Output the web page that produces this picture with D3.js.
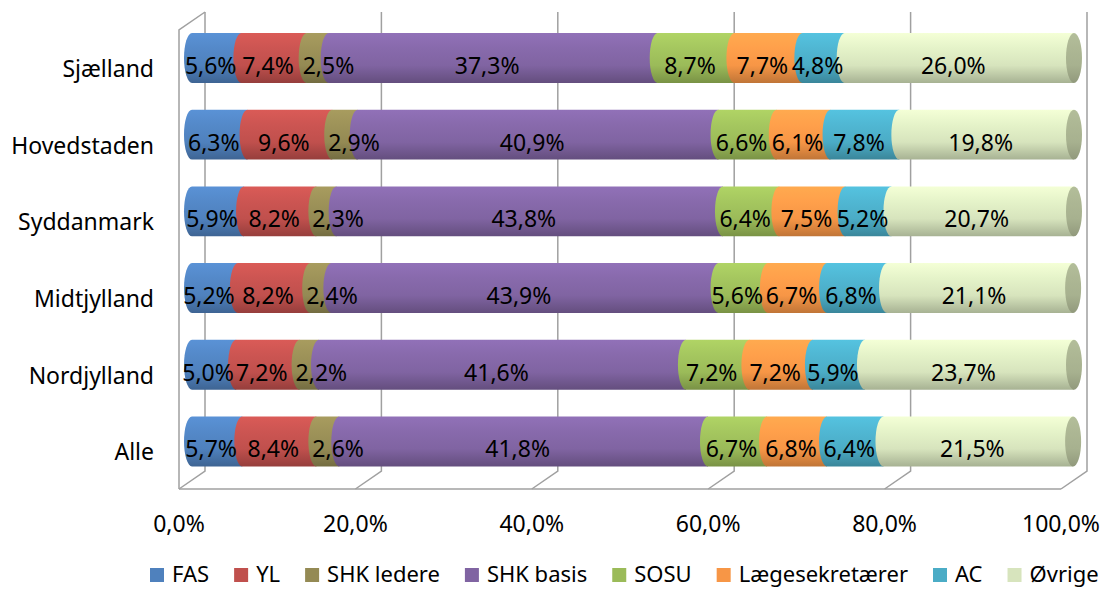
<!DOCTYPE html>
<html>
<head>
<meta charset="utf-8">
<script src="https://cdn.jsdelivr.net/npm/d3@7"></script>
<style>
body { margin: 0; background: #fff; }
svg text { font-family: "Noto Sans", sans-serif; fill: #000; }
</style>
</head>
<body>
<svg id="chart" width="1104" height="589"></svg>
<script>
// categories top to bottom
const regions = ["Sjælland", "Hovedstaden", "Syddanmark", "Midtjylland", "Nordjylland", "Alle"];
const seriesNames = ["FAS", "YL", "SHK ledere", "SHK basis", "SOSU", "Lægesekretærer", "AC", "Øvrige"];
const seriesColors = ["#4f81bd", "#c0504d", "#948a54", "#8064a2", "#9bbb59", "#f79646", "#4bacc6", "#d7e4bd"];

// values in percent, same order as regions
const fas       = [5.6, 6.3, 5.9, 5.2, 5.0, 5.7];
const yl        = [7.4, 9.6, 8.2, 8.2, 7.2, 8.4];
const shkLedere = [2.5, 2.9, 2.3, 2.4, 2.2, 2.6];
const shkBasis  = [37.3, 40.9, 43.8, 43.9, 41.6, 41.8];
const sosu      = [8.7, 6.6, 6.4, 5.6, 7.2, 6.7];
const laege     = [7.7, 6.1, 7.5, 6.7, 7.2, 6.8];
const ac        = [4.8, 7.8, 5.2, 6.8, 5.9, 6.4];
const oevrige   = [26.0, 19.8, 20.7, 21.1, 23.7, 21.5];

const ticks = [0, 20, 40, 60, 80, 100];

const seriesValues = [fas, yl, shkLedere, shkBasis, sosu, laege, ac, oevrige];
const fmt = v => v.toFixed(1).replace(".", ",") + "%";

var svg = d3.select("#chart");

// table for d3.stack
var table = regions.map(function(r, i){
	var row = {region: r};
	seriesNames.forEach((s, j) => row[s] = seriesValues[j][i]);
	return row;
});
var stacked = d3.stack().keys(seriesNames)(table);

// 3d box: front plane, back plane, bars in the middle
const depth = {dx: 26, dy: -18};
var xFront = d3.scaleLinear().domain([0, 100]).range([179, 1061]);
var xBack = d3.scaleLinear().domain([0, 100]).range([205, 1087]);
var xBar = d3.scaleLinear().domain([0, 100]).range([192, 1074]);
const floorY = 489;
const topY = 12;

var y = d3.scaleBand()
	.domain(regions)
	.range([19.6, 479.8])
	.paddingInner(0.35)
	.paddingOuter(0.175);

const rx = 8;

// gradients
var defs = svg.append("defs");
function addGradient(id, c, top, bottom){
	var g = defs.append("linearGradient")
		.attr("id", id)
		.attr("x1", 0).attr("y1", 0).attr("x2", 0).attr("y2", 1);
	var base = d3.color(c);
	g.append("stop").attr("offset", "0%").attr("stop-color", base.brighter(top).formatHex());
	g.append("stop").attr("offset", "30%").attr("stop-color", base.brighter(top * 0.5).formatHex());
	g.append("stop").attr("offset", "65%").attr("stop-color", base.formatHex());
	g.append("stop").attr("offset", "100%").attr("stop-color", base.darker(bottom).formatHex());
}
seriesColors.forEach((c, i) => addGradient("grad" + i, c, 0.35, 0.7));
addGradient("capGrad", "#a7b18f", 0.2, 0.4);

//walls and floor
var grid = svg.append("g").attr("class", "grid")
	.attr("fill", "none")
	.attr("stroke", "#a0a0a0")
	.attr("stroke-width", 1.5);

ticks.forEach(function(t){
	grid.append("path")
		.attr("d", "M" + xFront(t) + "," + floorY + "L" + xBack(t) + "," + (floorY + depth.dy) + "L" + xBack(t) + "," + topY);
});
grid.append("path")
	.attr("d", "M" + xFront(0) + "," + floorY + "L" + xFront(100) + "," + floorY);
grid.append("path")
	.attr("d", "M" + xFront(0) + "," + floorY + "L" + xFront(0) + "," + (topY - depth.dy) + "L" + xBack(0) + "," + topY);

// bars
var bars = svg.append("g").attr("class", "bars");
stacked.forEach(function(layer, si){
	bars.selectAll(".seg" + si)
		.data(layer)
		.enter()
		.append("path")
			.attr("class", "seg" + si)
			.attr("fill", "url(#grad" + si + ")")
			.attr("d", function(d){
				var a = xBar(d[0]), b = xBar(d[1]);
				var t = y(d.data.region), h = y.bandwidth();
				return "M" + a + "," + t + "L" + b + "," + t + "L" + b + "," + (t + h) +
					"L" + a + "," + (t + h) + "A" + rx + "," + (h / 2) + " 0 0 1 " + a + "," + t + "Z";
			});
});

// end caps
var last = stacked[stacked.length - 1];
bars.selectAll(".cap")
	.data(last)
	.enter()
	.append("ellipse")
		.attr("class", "cap")
		.attr("fill", "url(#capGrad)")
		.attr("cx", d => xBar(d[1]))
		.attr("cy", d => y(d.data.region) + y.bandwidth() / 2)
		.attr("rx", rx)
		.attr("ry", y.bandwidth() / 2);

// data labels (narrow segments: label starts at the segment start)
var labels = svg.append("g").attr("class", "labels")
	.style("font-size", "23px");
stacked.forEach(function(layer, si){
	labels.selectAll(".lab" + si)
		.data(layer)
		.enter()
		.append("text")
			.style("text-anchor", d => (d[1] - d[0]) < 4 ? "start" : "middle")
			.attr("x", function(d){
				if((d[1] - d[0]) < 4){
					return xBar(d[0]) - 4;
				}
				return (xBar(d[0]) + xBar(d[1])) / 2 - 6;
			})
			.attr("y", d => y(d.data.region) + y.bandwidth() / 2 + 16)
			.text(d => fmt(d[1] - d[0]));
});

// category labels
svg.append("g")
	.style("font-size", "23px")
	.style("text-anchor", "end")
	.selectAll("text")
	.data(regions)
	.enter()
	.append("text")
		.attr("x", 154)
		.attr("y", d => y(d) + y.bandwidth() / 2 + 19)
		.text(d => d);

// x tick labels
svg.append("g")
	.style("font-size", "23px")
	.style("text-anchor", "middle")
	.selectAll("text")
	.data(ticks)
	.enter()
	.append("text")
		.attr("x", d => xFront(d))
		.attr("y", 532)
		.text(d => d.toFixed(1).replace(".", ",") + "%");

// legend
var legend = svg.append("g").attr("class", "legend");
var lx = 150;
seriesNames.forEach(function(name, i){
	legend.append("rect")
		.attr("x", lx)
		.attr("y", 568)
		.attr("width", 14)
		.attr("height", 14)
		.attr("fill", seriesColors[i]);
	var txt = legend.append("text")
		.attr("x", lx + 22)
		.attr("y", 582)
		.style("font-size", "22px")
		.text(name);
	lx += 22 + txt.node().getComputedTextLength() + 25;
});
</script>
</body>
</html>
